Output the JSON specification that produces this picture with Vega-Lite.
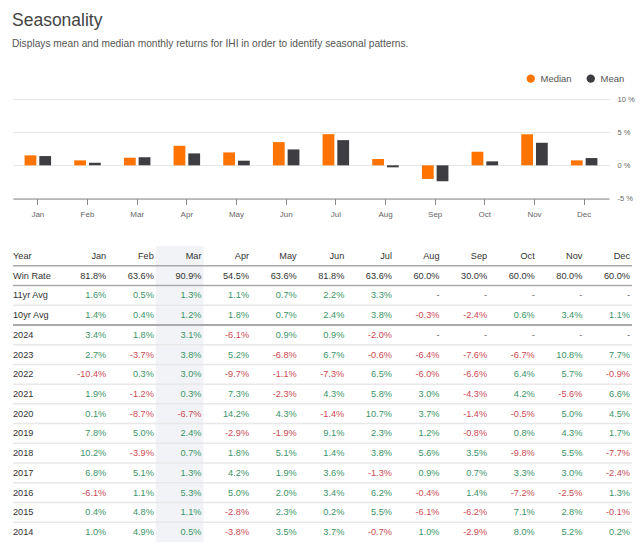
{
  "$schema": "https://vega.github.io/schema/vega-lite/v6.json",
  "padding": {"left": 12, "top": 11, "right": 4, "bottom": 6},
  "background": "white",
  "config": {"font": "Liberation Sans", "view": {"stroke": null}},
  "title": {
    "text": "Seasonality",
    "subtitle": "Displays mean and median monthly returns for IHI in order to identify seasonal patterns.",
    "anchor": "start",
    "fontSize": 17.5,
    "fontWeight": "normal",
    "color": "#444444",
    "subtitleFontSize": 10.2,
    "subtitleColor": "#555555",
    "subtitlePadding": 10,
    "offset": 24
  },
  "spacing": 27,
  "datasets": {
    "bars": [
      {"month": "Jan", "series": "Median", "value": 1.5},
      {"month": "Feb", "series": "Median", "value": 0.75},
      {"month": "Mar", "series": "Median", "value": 1.15},
      {"month": "Apr", "series": "Median", "value": 2.95},
      {"month": "May", "series": "Median", "value": 1.95},
      {"month": "Jun", "series": "Median", "value": 3.5},
      {"month": "Jul", "series": "Median", "value": 4.7},
      {"month": "Aug", "series": "Median", "value": 0.95},
      {"month": "Sep", "series": "Median", "value": -2.05},
      {"month": "Oct", "series": "Median", "value": 2.05},
      {"month": "Nov", "series": "Median", "value": 4.7},
      {"month": "Dec", "series": "Median", "value": 0.75},
      {"month": "Jan", "series": "Mean", "value": 1.4},
      {"month": "Feb", "series": "Mean", "value": 0.4},
      {"month": "Mar", "series": "Mean", "value": 1.2},
      {"month": "Apr", "series": "Mean", "value": 1.8},
      {"month": "May", "series": "Mean", "value": 0.7},
      {"month": "Jun", "series": "Mean", "value": 2.4},
      {"month": "Jul", "series": "Mean", "value": 3.8},
      {"month": "Aug", "series": "Mean", "value": -0.3},
      {"month": "Sep", "series": "Mean", "value": -2.4},
      {"month": "Oct", "series": "Mean", "value": 0.6},
      {"month": "Nov", "series": "Mean", "value": 3.4},
      {"month": "Dec", "series": "Mean", "value": 1.1}
    ],
    "rows": [
      {"r": "Year", "Jan": "Jan", "Feb": "Feb", "Mar": "Mar", "Apr": "Apr", "May": "May", "Jun": "Jun", "Jul": "Jul", "Aug": "Aug", "Sep": "Sep", "Oct": "Oct", "Nov": "Nov", "Dec": "Dec"},
      {"r": "Win Rate", "Jan": "81.8%", "Feb": "63.6%", "Mar": "90.9%", "Apr": "54.5%", "May": "63.6%", "Jun": "81.8%", "Jul": "63.6%", "Aug": "60.0%", "Sep": "30.0%", "Oct": "60.0%", "Nov": "80.0%", "Dec": "60.0%"},
      {"r": "11yr Avg", "Jan": "1.6%", "Feb": "0.5%", "Mar": "1.3%", "Apr": "1.1%", "May": "0.7%", "Jun": "2.2%", "Jul": "3.3%", "Aug": "-", "Sep": "-", "Oct": "-", "Nov": "-", "Dec": "-"},
      {"r": "10yr Avg", "Jan": "1.4%", "Feb": "0.4%", "Mar": "1.2%", "Apr": "1.8%", "May": "0.7%", "Jun": "2.4%", "Jul": "3.8%", "Aug": "-0.3%", "Sep": "-2.4%", "Oct": "0.6%", "Nov": "3.4%", "Dec": "1.1%"},
      {"r": "2024", "Jan": "3.4%", "Feb": "1.8%", "Mar": "3.1%", "Apr": "-6.1%", "May": "0.9%", "Jun": "0.9%", "Jul": "-2.0%", "Aug": "-", "Sep": "-", "Oct": "-", "Nov": "-", "Dec": "-"},
      {"r": "2023", "Jan": "2.7%", "Feb": "-3.7%", "Mar": "3.8%", "Apr": "5.2%", "May": "-6.8%", "Jun": "6.7%", "Jul": "-0.6%", "Aug": "-6.4%", "Sep": "-7.6%", "Oct": "-6.7%", "Nov": "10.8%", "Dec": "7.7%"},
      {"r": "2022", "Jan": "-10.4%", "Feb": "0.3%", "Mar": "3.0%", "Apr": "-9.7%", "May": "-1.1%", "Jun": "-7.3%", "Jul": "6.5%", "Aug": "-6.0%", "Sep": "-6.6%", "Oct": "6.4%", "Nov": "5.7%", "Dec": "-0.9%"},
      {"r": "2021", "Jan": "1.9%", "Feb": "-1.2%", "Mar": "0.3%", "Apr": "7.3%", "May": "-2.3%", "Jun": "4.3%", "Jul": "5.8%", "Aug": "3.0%", "Sep": "-4.3%", "Oct": "4.2%", "Nov": "-5.6%", "Dec": "6.6%"},
      {"r": "2020", "Jan": "0.1%", "Feb": "-8.7%", "Mar": "-6.7%", "Apr": "14.2%", "May": "4.3%", "Jun": "-1.4%", "Jul": "10.7%", "Aug": "3.7%", "Sep": "-1.4%", "Oct": "-0.5%", "Nov": "5.0%", "Dec": "4.5%"},
      {"r": "2019", "Jan": "7.8%", "Feb": "5.0%", "Mar": "2.4%", "Apr": "-2.9%", "May": "-1.9%", "Jun": "9.1%", "Jul": "2.3%", "Aug": "1.2%", "Sep": "-0.8%", "Oct": "0.8%", "Nov": "4.3%", "Dec": "1.7%"},
      {"r": "2018", "Jan": "10.2%", "Feb": "-3.9%", "Mar": "0.7%", "Apr": "1.8%", "May": "5.1%", "Jun": "1.4%", "Jul": "3.8%", "Aug": "5.6%", "Sep": "3.5%", "Oct": "-9.8%", "Nov": "5.5%", "Dec": "-7.7%"},
      {"r": "2017", "Jan": "6.8%", "Feb": "5.1%", "Mar": "1.3%", "Apr": "4.2%", "May": "1.9%", "Jun": "3.6%", "Jul": "-1.3%", "Aug": "0.9%", "Sep": "0.7%", "Oct": "3.3%", "Nov": "3.0%", "Dec": "-2.4%"},
      {"r": "2016", "Jan": "-6.1%", "Feb": "1.1%", "Mar": "5.3%", "Apr": "5.0%", "May": "2.0%", "Jun": "3.4%", "Jul": "6.2%", "Aug": "-0.4%", "Sep": "1.4%", "Oct": "-7.2%", "Nov": "-2.5%", "Dec": "1.3%"},
      {"r": "2015", "Jan": "0.4%", "Feb": "4.8%", "Mar": "1.1%", "Apr": "-2.8%", "May": "2.3%", "Jun": "0.2%", "Jul": "5.5%", "Aug": "-6.1%", "Sep": "-6.2%", "Oct": "7.1%", "Nov": "2.8%", "Dec": "-0.1%"},
      {"r": "2014", "Jan": "1.0%", "Feb": "4.9%", "Mar": "0.5%", "Apr": "-3.8%", "May": "3.5%", "Jun": "3.7%", "Jul": "-0.7%", "Aug": "1.0%", "Sep": "-2.9%", "Oct": "8.0%", "Nov": "5.2%", "Dec": "0.2%"}
    ]
  },
  "vconcat": [
    {
      "width": 596,
      "height": 99.5,
      "data": {"name": "bars"},
      "mark": {"type": "bar"},
      "encoding": {
        "x": {
          "field": "month", "type": "nominal",
          "scale": {"domain": ["Jan","Feb","Mar","Apr","May","Jun","Jul","Aug","Sep","Oct","Nov","Dec"], "paddingInner": 0.466, "paddingOuter": 0.233},
          "axis": {"title": null, "labelAngle": 0, "labelFontSize": 8, "labelColor": "#666666", "domainColor": "#888888", "tickColor": "#888888", "tickSize": 6, "labelPadding": 6, "grid": false}
        },
        "xOffset": {"field": "series", "type": "nominal", "scale": {"domain": ["Median","Mean"], "paddingInner": 0.2, "paddingOuter": 0}},
        "y": {
          "field": "value", "type": "quantitative",
          "scale": {"domain": [-5, 10], "nice": false},
          "axis": {"orient": "right", "values": [-5, 0, 5, 10], "labelExpr": "datum.value + ' %'", "title": null, "domain": false, "ticks": false, "tickSize": 0, "labelPadding": 8, "labelFontSize": 7.5, "labelColor": "#666666", "grid": true, "gridColor": "#e6e6e6"}
        },
        "color": {
          "field": "series", "type": "nominal",
          "scale": {"domain": ["Median","Mean"], "range": ["#ff7300","#3d3d42"]},
          "legend": {"orient": "none", "legendX": 513, "legendY": -25.5, "direction": "horizontal", "title": null, "symbolType": "circle", "symbolSize": 70, "labelFontSize": 9.5, "labelColor": "#555555", "columnPadding": 14, "labelOffset": 5, "symbolStrokeWidth": 0}
        }
      }
    },
    {
      "width": 619,
      "height": 296,
      "layer": [
        {
          "data": {"values": [{"col": "Mar"}]},
          "mark": {"type": "rect", "color": "#f2f3f6"},
          "encoding": {
            "x": {"field": "col", "type": "nominal", "axis": null, "scale": {"domain": ["Year","Jan","Feb","Mar","Apr","May","Jun","Jul","Aug","Sep","Oct","Nov","Dec"], "paddingInner": 0, "paddingOuter": 0}}
          }
        },
        {
          "data": {"name": "rows"},
          "transform": [{"filter": "datum.r != '2014'"}],
          "mark": {"type": "rule"},
          "encoding": {
            "y": {"field": "r", "type": "nominal", "bandPosition": 1, "axis": null, "scale": {"domain": ["Year","Win Rate","11yr Avg","10yr Avg","2024","2023","2022","2021","2020","2019","2018","2017","2016","2015","2014"], "paddingInner": 0, "paddingOuter": 0}},
            "color": {"condition": {"test": "datum.r == 'Year' || datum.r == 'Win Rate' || datum.r == '10yr Avg'", "value": "#aaaaaa"}, "value": "#e8e8e8"},
            "strokeWidth": {"condition": {"test": "datum.r == '10yr Avg'", "value": 2}, "value": 1.5}
          }
        },
        {
          "data": {"name": "rows"},
          "transform": [{"fold": ["Jan","Feb","Mar","Apr","May","Jun","Jul","Aug","Sep","Oct","Nov","Dec"], "as": ["col", "txt"]}],
          "mark": {"type": "text", "align": "right", "baseline": "middle", "dx": -2, "fontSize": 9.2},
          "encoding": {
            "x": {"field": "col", "type": "nominal", "bandPosition": 1, "axis": null, "scale": {"domain": ["Year","Jan","Feb","Mar","Apr","May","Jun","Jul","Aug","Sep","Oct","Nov","Dec"], "paddingInner": 0, "paddingOuter": 0}},
            "y": {"field": "r", "type": "nominal", "axis": null, "scale": {"domain": ["Year","Win Rate","11yr Avg","10yr Avg","2024","2023","2022","2021","2020","2019","2018","2017","2016","2015","2014"], "paddingInner": 0, "paddingOuter": 0}},
            "text": {"field": "txt", "type": "nominal"},
            "color": {
              "condition": [
                {"test": "datum.r == 'Year' || datum.r == 'Win Rate'", "value": "#333333"},
                {"test": "datum.txt == '-'", "value": "#666666"},
                {"test": "substring(datum.txt, 0, 1) == '-'", "value": "#cc4a55"}
              ],
              "value": "#3a9468"
            },
            "fontWeight": {"condition": {"test": "datum.r == 'Win Rate' && datum.col == 'Mar'", "value": "bold"}, "value": "normal"}
          }
        },
        {
          "data": {"name": "rows"},
          "mark": {"type": "text", "align": "left", "baseline": "middle", "fontSize": 9.2, "color": "#333333"},
          "encoding": {
            "x": {"datum": "Year", "type": "nominal", "bandPosition": 0},
            "y": {"field": "r", "type": "nominal"},
            "text": {"field": "r", "type": "nominal"}
          }
        }
      ]
    }
  ]
}
